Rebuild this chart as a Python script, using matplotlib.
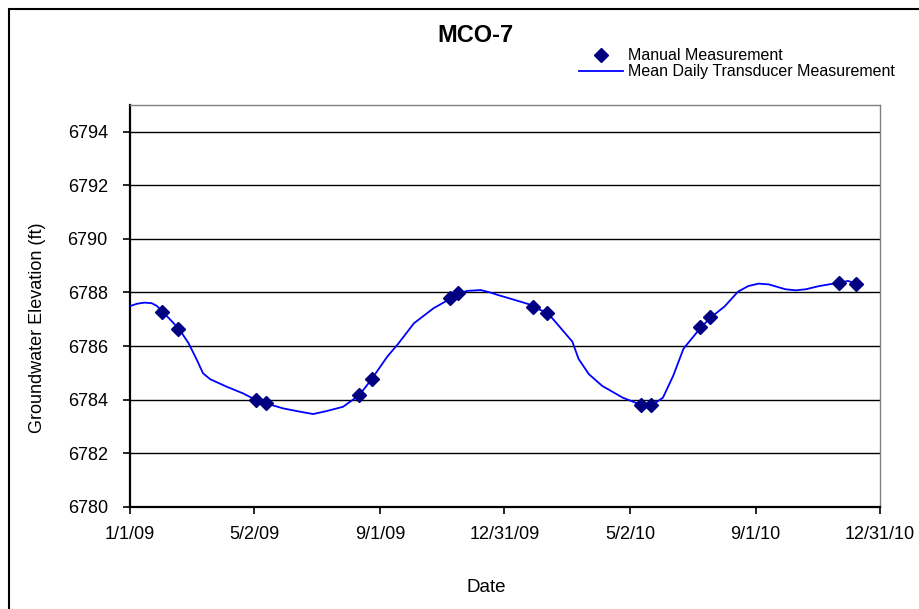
import matplotlib
matplotlib.use("Agg")
import matplotlib.pyplot as plt
from matplotlib.patches import Rectangle
import pandas as pd

plt.rcParams['font.family'] = ['Liberation Sans', 'DejaVu Sans']

# ---- data ----
title = "MCO-7"
x_label = "Date"
y_label = "Groundwater Elevation (ft)"

transducer_dates = [
    "2009-01-01", "2009-01-08", "2009-01-15", "2009-01-22", "2009-01-27", "2009-02-02",
    "2009-02-10", "2009-02-18", "2009-02-27", "2009-03-07", "2009-03-13", "2009-03-20",
    "2009-04-05", "2009-04-21", "2009-05-03", "2009-05-13", "2009-05-30", "2009-06-15",
    "2009-06-28", "2009-07-11", "2009-07-27", "2009-08-03", "2009-08-12", "2009-08-24",
    "2009-09-08", "2009-09-19", "2009-10-04", "2009-10-23", "2009-11-09", "2009-11-17",
    "2009-11-25", "2009-12-08", "2009-12-17", "2009-12-25", "2010-01-03", "2010-01-23",
    "2010-01-28", "2010-02-11", "2010-02-21", "2010-03-07", "2010-03-13", "2010-03-23",
    "2010-04-05", "2010-04-25", "2010-05-13", "2010-05-23", "2010-06-03", "2010-06-13",
    "2010-06-23", "2010-07-10", "2010-07-20", "2010-08-02", "2010-08-15", "2010-08-25",
    "2010-09-04", "2010-09-14", "2010-09-30", "2010-10-10", "2010-10-20", "2010-11-02",
    "2010-11-22", "2010-11-30", "2010-12-08",
]
transducer_values = [
    6787.49, 6787.58, 6787.62, 6787.60, 6787.50, 6787.27,
    6786.95, 6786.62, 6786.10, 6785.48, 6784.98, 6784.76,
    6784.48, 6784.23, 6783.99, 6783.86, 6783.67, 6783.55,
    6783.46, 6783.57, 6783.73, 6783.92, 6784.17, 6784.77,
    6785.60, 6786.10, 6786.85, 6787.41, 6787.78, 6787.97,
    6788.06, 6788.09, 6788.00, 6787.90, 6787.80, 6787.57,
    6787.46, 6787.23, 6786.79, 6786.16, 6785.52, 6784.95,
    6784.51, 6784.07, 6783.80, 6783.78, 6784.07, 6784.89,
    6785.90, 6786.70, 6787.08, 6787.48, 6788.03, 6788.24,
    6788.33, 6788.30, 6788.12, 6788.08, 6788.12, 6788.24,
    6788.37, 6788.43, 6788.32,
]

manual_dates = [
    "2009-02-01", "2009-02-17", "2009-05-03", "2009-05-13", "2009-08-12", "2009-08-24",
    "2009-11-08", "2009-11-16", "2010-01-28", "2010-02-10", "2010-05-13", "2010-05-22",
    "2010-07-09", "2010-07-19", "2010-11-21", "2010-12-08",
]
manual_values = [
    6787.28, 6786.62, 6783.98, 6783.86, 6784.17, 6784.77,
    6787.78, 6787.97, 6787.46, 6787.23, 6783.80, 6783.78,
    6786.70, 6787.08, 6788.37, 6788.30,
]

x_tick_dates = ["2009-01-01", "2009-05-02", "2009-09-01", "2009-12-31",
                "2010-05-02", "2010-09-01", "2010-12-31"]
x_tick_labels = ["1/1/09", "5/2/09", "9/1/09", "12/31/09", "5/2/10", "9/1/10", "12/31/10"]
y_ticks = [6780, 6782, 6784, 6786, 6788, 6790, 6792, 6794]

# ---- figure ----
W, H = 920, 609
fig = plt.figure(figsize=(W / 100, H / 100), dpi=100)
ax = fig.add_axes([130 / W, 1 - 506.7 / H, 750 / W, (506.7 - 105) / H])

td = pd.to_datetime(transducer_dates)
md = pd.to_datetime(manual_dates)

ax.plot(td, transducer_values, color="#0000FF", lw=1.3, zorder=3,
        label="Mean Daily Transducer Measurement")
ax.plot(md, manual_values, linestyle="none", marker="D", markersize=7.5,
        color="#000080", zorder=4, label="Manual Measurement")

ax.set_xlim(pd.Timestamp("2009-01-01"), pd.Timestamp("2010-12-31"))
ax.set_ylim(6780, 6795)
ax.set_yticks(y_ticks)
ax.set_yticklabels([str(v) for v in y_ticks])
ax.set_xticks(pd.to_datetime(x_tick_dates))
ax.set_xticklabels(x_tick_labels)

for y in y_ticks[1:]:
    ax.axhline(y, color="black", lw=1.0, zorder=1)

ax.tick_params(axis="both", direction="out", length=5, width=1.2, color="black",
               labelsize=13, labelcolor="black")
ax.tick_params(axis="x", pad=9)
ax.tick_params(axis="y", pad=11)

for s in ["left", "bottom"]:
    ax.spines[s].set_color("black")
    ax.spines[s].set_linewidth(1.6)
for s in ["top", "right"]:
    ax.spines[s].set_color("#808080")
    ax.spines[s].set_linewidth(1.0)

fig.text(475 / W, 1 - 36 / H, title, ha="center", va="center",
         fontsize=17, fontweight="bold")
fig.text(486 / W, 1 - 587 / H, x_label, ha="center", va="center", fontsize=13.5)
fig.text(38 / W, 1 - 328 / H, y_label, ha="center", va="center",
         rotation=90, fontsize=13)

handles, labels = ax.get_legend_handles_labels()
leg = fig.legend([handles[1], handles[0]], [labels[1], labels[0]],
                 loc="center left", bbox_to_anchor=(579 / W, 1 - 63.7 / H),
                 frameon=False, fontsize=11.5, handlelength=2.75, handletextpad=0.3,
                 labelspacing=0.05, borderpad=0, borderaxespad=0)

fig.add_artist(Rectangle((9 / W, -0.1), 1.2, 1.1 - 9 / H, transform=fig.transFigure,
                         fill=False, edgecolor="black", lw=1.5))

fig.savefig("out.png", dpi=100)
